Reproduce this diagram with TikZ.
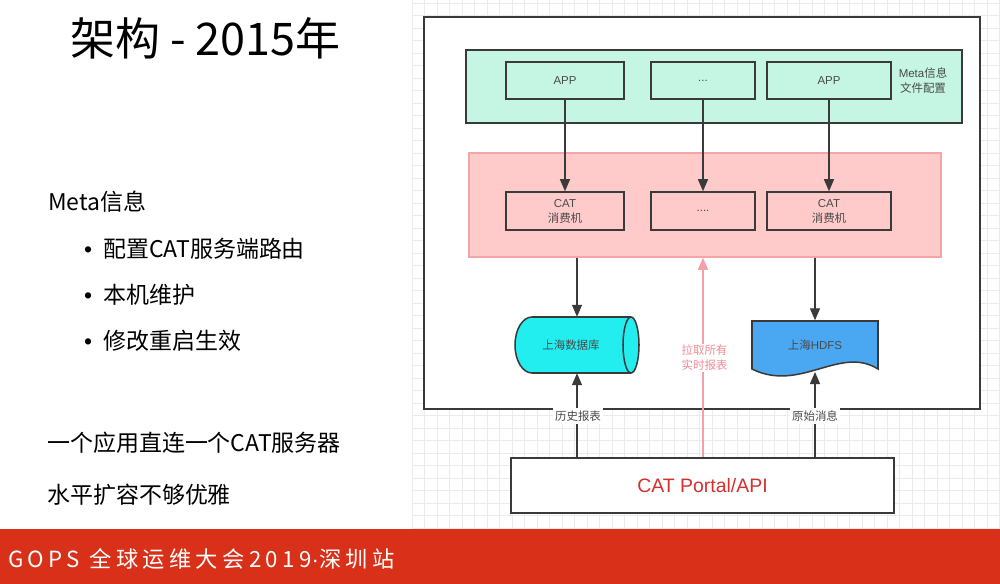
\documentclass[tikz,border=0pt]{standalone}
\usepackage{fontspec}
\setmainfont{Noto Sans CJK SC}
\newfontfamily\lat{Liberation Sans}
\newfontfamily\footfont[LetterSpace=19.5]{Noto Sans CJK SC}
\usetikzlibrary{arrows.meta}
\definecolor{mint}{HTML}{C4F6E3}
\definecolor{pinkfill}{HTML}{FFCACA}
\definecolor{pinkedge}{HTML}{F4A6A6}
\definecolor{cyanfill}{HTML}{22EEF0}
\definecolor{bluefill}{HTML}{4AA8F2}
\definecolor{portalred}{HTML}{D2312E}
\definecolor{footerred}{HTML}{D9301A}
\definecolor{dark}{HTML}{3A3A3A}
\definecolor{pinkline}{HTML}{F4A0A8}
\definecolor{pinktext}{HTML}{F08C95}
\definecolor{textgray}{HTML}{4A4A4A}
\definecolor{gridgray}{HTML}{EBEBEB}
\newcommand{\bulletmark}{\makebox[16.2pt][l]{\lat •}}
\begin{document}
\begin{tikzpicture}[x=0.03cm,y=-0.03cm,
  box/.style={draw=dark,line width=1.3pt,inner sep=0pt},
  arr/.style={draw=dark,line width=1.1pt,-{Triangle[length=0.36cm,width=0.3cm]}},
  parr/.style={draw=pinkline,line width=1.1pt,-{Triangle[length=0.36cm,width=0.3cm]}},
  lbl/.style={font=\fontsize{9.8}{12.8}\selectfont,text=textgray,align=center,inner sep=1pt},
  lefttext/.style={anchor=west,font=\fontsize{19.6}{24}\selectfont,inner sep=0pt,text=black},
  gridline/.style={draw=gridgray,line width=0.5pt}]
\useasboundingbox (0,0) rectangle (1000,584);
\fill[white] (0,0) rectangle (1000,584);
% background grid
\foreach \i in {0,...,47} {\draw[gridline] (412+12.5*\i,0) -- (412+12.5*\i,529);}
\foreach \j in {0,...,42} {\draw[gridline] (412,3+12.5*\j) -- (1000,3+12.5*\j);}
% left side text
\node[lefttext,font=\fontsize{38.4}{44}\selectfont] (title) at (70,38.5) {架构 - 2015年};
\node[lefttext] (meta) at (48,202) {Meta信息};
\node[lefttext] (b1) at (84,249) {\bulletmark 配置CAT服务端路由};
\node[lefttext] (b2) at (84,295) {\bulletmark 本机维护};
\node[lefttext] (b3) at (84,341) {\bulletmark 修改重启生效};
\node[lefttext] (l1) at (47,443) {一个应用直连一个CAT服务器};
\node[lefttext] (l2) at (47,495) {水平扩容不够优雅};
% footer
\fill[footerred] (0,529) rectangle (1000,584);
\node[anchor=west,inner sep=0pt,text=white,font=\footfont\fontsize{19}{22}\selectfont] (foot) at (8,559) {GOPS 全球运维大会2019{\lat ·}深圳站};
% outer box
\node[box,fill=white,minimum width=16.68cm,minimum height=11.76cm] (outer) at (702,213) {};
% green band
\node[box,fill=mint,minimum width=14.88cm,minimum height=2.19cm] (green) at (714,86.5) {};
\node[box,minimum width=3.54cm,minimum height=1.11cm,lbl] (app1) at (565,80.5) {\lat APP};
\node[box,minimum width=3.12cm,minimum height=1.11cm,lbl] (app2) at (703,80.5) {\lat ...};
\node[box,minimum width=3.72cm,minimum height=1.11cm,lbl] (app3) at (829,80.5) {\lat APP};
\node[lbl] (metalbl) at (923,81) {{\lat Meta}信息\\文件配置};
% pink band
\node[draw=pinkedge,line width=1.3pt,fill=pinkfill,minimum width=14.16cm,minimum height=3.12cm] (pink) at (705,205) {};
\node[box,minimum width=3.54cm,minimum height=1.14cm,lbl] (cat1) at (565,211) {\lat CAT\\消费机};
\node[box,minimum width=3.12cm,minimum height=1.14cm,lbl] (cat2) at (703,211) {\lat ....};
\node[box,minimum width=3.72cm,minimum height=1.14cm,lbl] (cat3) at (829,211) {\lat CAT\\消费机};
\draw[arr] (app1) -- (cat1);
\draw[arr] (app2) -- (cat2);
\draw[arr] (app3) -- (cat3);
% database cylinder
\node[minimum width=3.72cm,minimum height=1.68cm,inner sep=0pt] (db) at (577,345) {};
\filldraw[fill=cyanfill,draw=dark,line width=1.3pt]
  (532,317) -- (631,317) .. controls (635.4,317) and (639,329.5) .. (639,345)
  .. controls (639,360.5) and (635.4,373) .. (631,373) -- (532,373)
  .. controls (522.6,373) and (515,360.5) .. (515,345)
  .. controls (515,329.5) and (522.6,317) .. (532,317) -- cycle;
\draw[dark,line width=1.3pt] (631,373) .. controls (626.6,373) and (623,360.5) .. (623,345)
  .. controls (623,329.5) and (626.6,317) .. (631,317);
\node[lbl] (dbtext) at (571,345) {上海数据库};
% HDFS document
\node[minimum width=3.78cm,minimum height=1.65cm,inner sep=0pt] (hdfs) at (815,348) {};
\filldraw[fill=bluefill,draw=dark,line width=1.3pt]
  (752,321) -- (878,321) -- (878,369) .. controls (840,345) and (800,393) .. (752,369) -- cycle;
\node[lbl] (hdfstext) at (815,345) {上海{\lat HDFS}};
\coordinate (hdfsb) at (815,372);
% arrows to storage
\draw[arr] (db.north |- pink.south) -- (db.north);
\draw[arr] (hdfs.north |- pink.south) -- (hdfs.north);
% portal
\node[box,fill=white,minimum width=11.49cm,minimum height=1.65cm,text=portalred,font=\lat\fontsize{16.6}{20}\selectfont] (portal) at (702.5,485.5) {CAT Portal/API};
\draw[arr] (db.south |- portal.north) -- (db.south);
\draw[arr] (hdfsb |- portal.north) -- (hdfsb);
\draw[parr] (cat2.south |- portal.north) -- (cat2.south |- pink.south);
% labels on connectors
\node[lbl,fill=white,text=pinktext] (pulllbl) at (704.5,358) {拉取所有\\实时报表};
\node[lbl,fill=white,inner sep=2pt] (histlbl) at (578,416) {历史报表};
\node[lbl,fill=white,inner sep=2pt] (rawlbl) at (815,416) {原始消息};
\end{tikzpicture}
\end{document}
